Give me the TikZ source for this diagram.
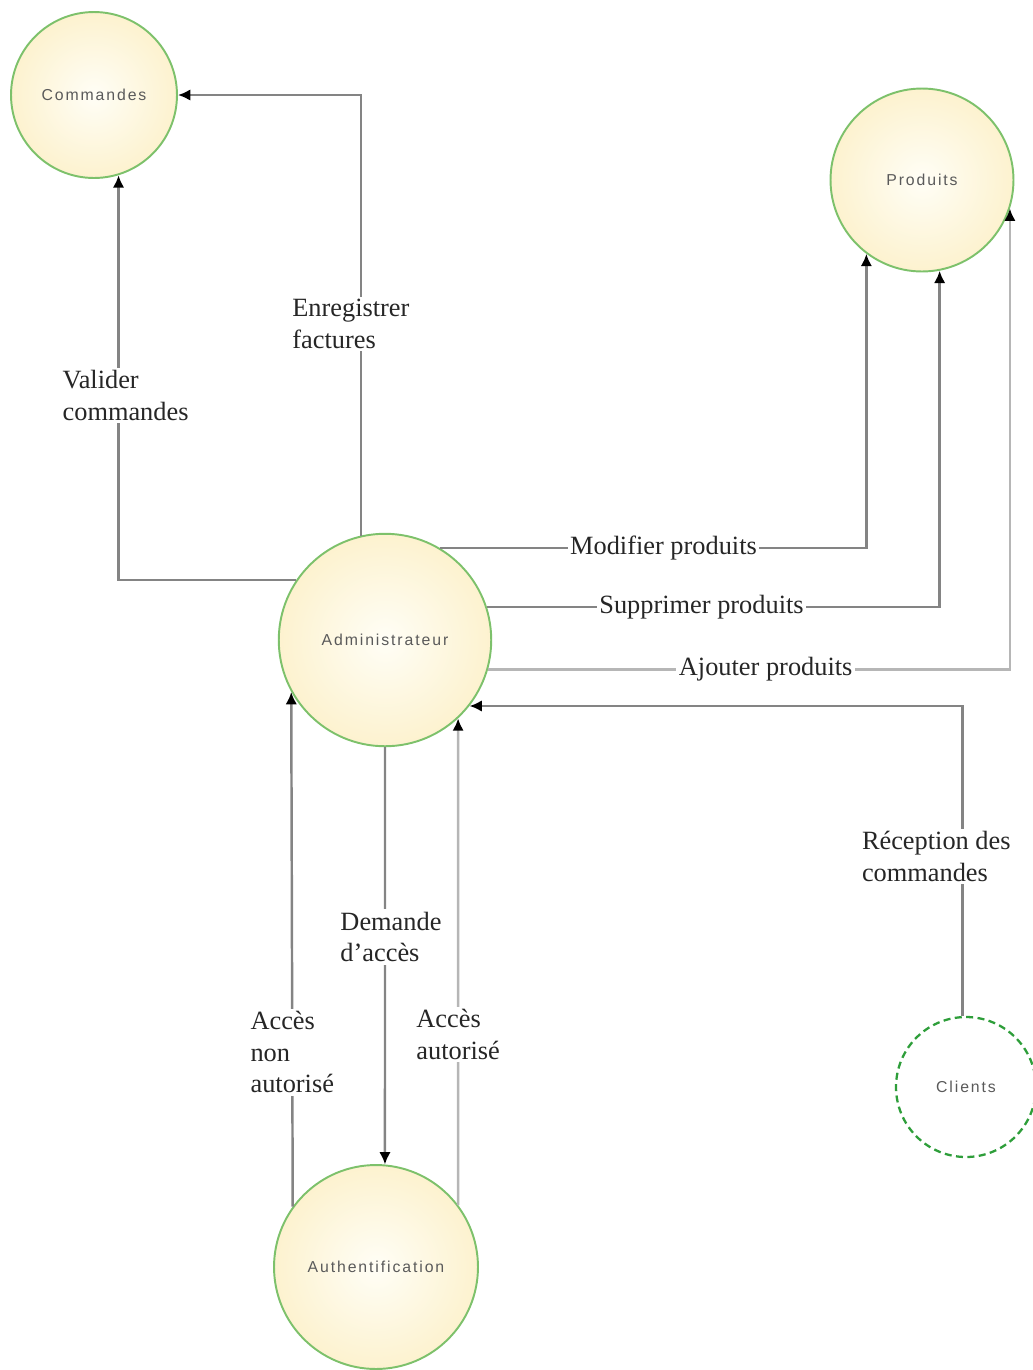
\documentclass[tikz,border=0pt]{standalone}
\usepackage{fontspec}
\setmainfont{Liberation Serif}
\newfontfamily\circfont[LetterSpace=12]{Liberation Sans}
\usetikzlibrary{arrows.meta}

\definecolor{entborder}{HTML}{7DC16B}
\definecolor{entfill}{HTML}{FAE6A8}
\definecolor{entcentre}{HTML}{FFFEF6}
\definecolor{extborder}{HTML}{2E9E3A}
\definecolor{flowgray}{HTML}{848484}
\definecolor{flowlight}{HTML}{B6B6B6}
\definecolor{circtext}{HTML}{5A5A5A}

\pgfdeclareradialshading{entshade}{\pgfpoint{0bp}{0bp}}{%
    color(0bp)=(entcentre); color(50bp)=(entfill)}

\tikzstyle{entity} = [
    circle,
    draw=entborder,
    line width=1.1pt,
    shading=entshade,
    text=circtext,
    font={\circfont\fontsize{9}{10}\selectfont},
]
\tikzstyle{extentity} = [
    circle,
    draw=extborder,
    line width=1.3pt,
    dash pattern=on 4pt off 2.5pt,
    fill=white,
    text=circtext,
    font={\circfont\fontsize{9}{10}\selectfont},
]
\tikzstyle{labelstyle} = [
    fill=white,
    align=left,
    inner sep=1.5pt,
    text=black!85,
    font={\fontsize{15}{18}\selectfont},
]
\tikzstyle{arrow} = [
    draw=flowgray,
    line width=1.4pt,
    -{Latex[length=7pt,width=6.5pt,color=black]}
]
\tikzstyle{lightarrow} = [
    arrow,
    draw=flowlight,
]

\begin{document}
\begin{tikzpicture}[x=0.02cm, y=-0.02cm]
        \useasboundingbox (0,0) rectangle (1033,1370);
        %%\draw[step=50,gray,very thin] (0,0) grid (1033,1370);
        \node (cmd) [entity, minimum size=3.32cm] at (94,95) {Commandes};
        \node (prod) [entity, minimum size=3.66cm] at (922,180) {Produits};
        \node (admin) [entity, minimum size=4.25cm] at (385,640) {Administrateur};
        \node (auth) [entity, minimum size=4.08cm] at (376,1267) {Authentification};
        \node (cl) [extentity, minimum size=2.8cm] at (966,1087) {Clients};
        \draw [arrow] (admin.103) |- node[labelstyle, pos=0.24, xshift=-5.7pt] {Enregistrer\\factures} (cmd.east);
        \draw [arrow] (admin.146) -| node[labelstyle, pos=0.728, xshift=4pt] {Valider\\commandes} (cmd.-73);
        \draw [arrow] (admin.59) -| node[labelstyle, pos=0.262] {Modifier produits} (prod.233);
        \draw [arrow] (admin.18) -| node[labelstyle, pos=0.237] {Supprimer produits} (prod.-79);
        \draw [lightarrow] (admin.-16) -| node[labelstyle, pos=0.266] {Ajouter produits} (prod.-18);
        \draw [arrow] (cl.93) |- node[labelstyle, pos=0.257, xshift=-14.8pt] {Réception des\\commandes} (admin.-38);
        \draw [arrow] (admin.south) -- node[labelstyle, pos=0.455, xshift=3.4pt] {Demande\\d'accès} (auth.85);
        \draw [arrow] (auth.144) -- node[labelstyle, pos=0.30] {Accès\\non\\autorisé} (admin.209);
        \draw [lightarrow] (auth.37) -- node[labelstyle, pos=0.35] {Accès\\autorisé} (admin.-47);
    \end{tikzpicture}
\end{document}
